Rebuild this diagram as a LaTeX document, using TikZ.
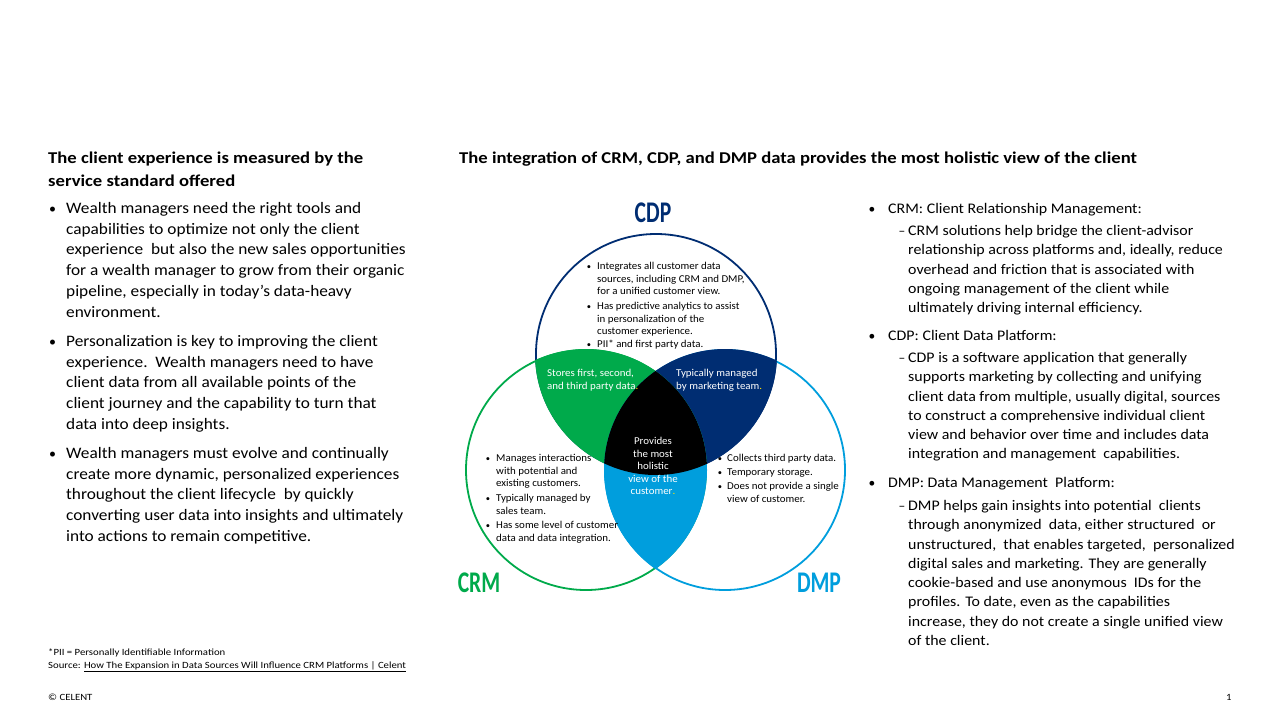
\documentclass[tikz,border=0pt]{standalone}
\usepackage{fontspec}
\setmainfont{Carlito}
\usepackage{graphicx}
\definecolor{cdpc}{RGB}{0,45,114}
\definecolor{crmc}{RGB}{0,170,75}
\definecolor{dmpc}{RGB}{0,158,221}
\definecolor{dotc}{RGB}{255,225,0}
\gdef\sxv{1}
\newcommand\T[1]{\scalebox{\sxv}[1]{#1}}
\newcommand\mylines[6]{%
  \foreach \tl [count=\ii from 0] in {#6}{%
    \node[#5] (#1-\ii) at (#2,{#3+\ii*#4}) {\T{\tl}};}}
\tikzset{
  hsc/.code={\gdef\sxv{#1}},
  txt/.style={anchor=base west, inner sep=0pt},
  head/.style={txt, hsc=1.13, font=\fontsize{16.5}{19}\selectfont\bfseries},
  lbody/.style={txt, hsc=1.08, font=\fontsize{16}{19}\selectfont},
  rbody/.style={txt, hsc=1.085, font=\fontsize{14.67}{17}\selectfont},
  vtxt/.style={txt, hsc=1.04, font=\fontsize{10.5}{12}\selectfont},
  vwhite/.style={vtxt, text=white},
  vcenter/.style={anchor=base, inner sep=0pt, hsc=1.04, text=white, font=\fontsize{10.5}{12}\selectfont},
  foot/.style={txt, hsc=1.13, font=\fontsize{9.5}{11}\selectfont},
  bul/.style={anchor=base, inner sep=0pt, hsc=1},
  lbul/.style={bul, font=\fontsize{14}{19}\selectfont},
  rbul/.style={bul, font=\fontsize{13.5}{17}\selectfont},
  vbul/.style={bul, font=\fontsize{8.5}{11}\selectfont},
  vlabel/.style={anchor=center, inner sep=0pt, hsc=0.72, font=\fontsize{30}{30}\selectfont\bfseries},
  ring/.style={line width=1.8pt},
}
\begin{document}
\begin{tikzpicture}[x=1pt,y=-1pt]
\useasboundingbox (0,0) rectangle (1280,720);
\fill[white] (0,0) rectangle (1280,720);

% ---------- headings ----------
\node[head] (h1) at (48,163.5) {\T{The client experience is measured by the}};
\node[head] (h2) at (48,186.5) {\T{service standard offered}};
\node[head] (h3) at (459,163.5) {\T{The integration of CRM, CDP, and DMP data provides the most holistic view of the client}};

% ---------- left bullets ----------
\node[lbul] (lb1) at (52.5,213) {•};
\mylines{la}{66}{213.5}{20.7}{lbody}{{Wealth managers need the right tools and},{capabilities to optimize not only the client},{experience\ \ but also the new sales opportunities},{for a wealth manager to grow from their organic},{pipeline, especially in today’s data-heavy},{environment.}}
\node[lbul] (lb2) at (52.5,346) {•};
\mylines{lb}{66}{346.5}{20.7}{lbody}{{Personalization is key to improving the client},{experience.\ \ Wealth managers need to have},{client data from all available points of the},{client journey and the capability to turn that},{data into deep insights.}}
\node[lbul] (lb3) at (52.5,458) {•};
\mylines{lc}{66}{458.5}{20.7}{lbody}{{Wealth managers must evolve and continually},{create more dynamic, personalized experiences},{throughout the client lifecycle\ \ by quickly},{converting user data into insights and ultimately},{into actions to remain competitive.}}

% ---------- right bullets ----------
\node[rbul] (rb1) at (872,213) {•};
\node[rbody] (r1) at (888,213.5) {\T{CRM: Client Relationship Management:}};
\node[rbul] (rd1) at (902,235.5) {–};
\mylines{ra}{908}{235.5}{19.25}{rbody}{{CRM solutions help bridge the client-advisor},{relationship across platforms and, ideally, reduce},{overhead and friction that is associated with},{ongoing management of the client while},{ultimately driving internal efficiency.}}
\node[rbul] (rb2) at (872,340) {•};
\node[rbody] (r2) at (888,340.5) {\T{CDP: Client Data Platform:}};
\node[rbul] (rd2) at (902,362.5) {–};
\mylines{rb}{908}{362.5}{19.25}{rbody}{{CDP is a software application that generally},{supports marketing by collecting and unifying},{client data from multiple, usually digital, sources},{to construct a comprehensive individual client},{view and behavior over time and includes data},{integration and management\ \ capabilities.}}
\node[rbul] (rb3) at (872,487) {•};
\node[rbody] (r3) at (888,487.5) {\T{DMP: Data Management\ \ Platform:}};
\node[rbul] (rd3) at (902,510.5) {–};
\mylines{rc}{908}{510.5}{19.25}{rbody}{{DMP helps gain insights into potential\ \ clients},{through anonymized\ \ data, either structured\ \ or},{unstructured,\ \ that enables targeted,\ \ personalized},{digital sales and marketing. They are generally},{cookie-based and use anonymous\ \ IDs for the},{profiles. To date, even as the capabilities},{increase, they do not create a single unified view},{of the client.}}

% ---------- Venn diagram ----------
\coordinate (cdp) at (656,354);
\coordinate (crm) at (586,470);
\coordinate (dmp) at (725,470);
\draw[ring, cdpc] (cdp) circle[radius=120pt];
\draw[ring, crmc] (crm) circle[radius=120pt];
\draw[ring, dmpc] (dmp) circle[radius=120pt];
\begin{scope}
  \clip (cdp) circle[radius=121pt];
  \clip (dmp) circle[radius=121pt];
  \fill[cdpc] (cdp) circle[radius=122pt];
\end{scope}
\begin{scope}
  \clip (cdp) circle[radius=121pt];
  \clip (crm) circle[radius=121pt];
  \fill[crmc] (cdp) circle[radius=122pt];
\end{scope}
\begin{scope}
  \clip (crm) circle[radius=121pt];
  \clip (dmp) circle[radius=121pt];
  \fill[dmpc] (crm) circle[radius=122pt];
\end{scope}
\begin{scope}
  \clip (cdp) circle[radius=121pt];
  \clip (crm) circle[radius=121pt];
  \clip (dmp) circle[radius=121pt];
  \fill[black] (cdp) circle[radius=122pt];
\end{scope}

% labels
\node[vlabel, text=cdpc] (lcdp) at (653,213) {\T{CDP}};
\node[vlabel, text=crmc] (lcrm) at (479,583) {\T{CRM}};
\node[vlabel, text=dmpc] (ldmp) at (819,583) {\T{DMP}};

% CDP text
\node[vbul] (cb1) at (589,269.5) {•};
\mylines{ca}{597}{269.5}{12.5}{vtxt}{{Integrates all customer data},{sources, including CRM and DMP,},{for a unified customer view.}}
\node[vbul] (cb2) at (589,309.5) {•};
\mylines{cb}{597}{309.5}{12.5}{vtxt}{{Has predictive analytics to assist},{in personalization of the},{customer experience.}}
\node[vbul] (cb3) at (589,347.5) {•};
\node[vtxt] (cc-0) at (597,347.5) {\T{PII* and first party data.}};

% overlap texts
\mylines{ga}{547}{376.5}{13}{vwhite}{{Stores first, second,},{and third party data{\color{dotc}.}}}
\mylines{na}{676}{376.5}{13}{vwhite}{{Typically managed},{by marketing team{\color{dotc}.}}}
\mylines{ka}{653}{444.5}{12.5}{vcenter}{{Provides},{the most},{holistic},{view of the},{customer{\color{dotc}.}}}

% CRM text
\node[vbul] (mb1) at (488,461.5) {•};
\mylines{ma}{496}{461.5}{12.7}{vtxt}{{Manages interactions},{with potential and},{existing customers.}}
\node[vbul] (mb2) at (488,501.5) {•};
\mylines{mb}{496}{501.5}{12.7}{vtxt}{{Typically managed by},{sales team.}}
\node[vbul] (mb3) at (488,528.5) {•};
\mylines{mc}{496}{528.5}{12.7}{vtxt}{{Has some level of customer},{data and data integration.}}

% DMP text
\node[vbul] (db1) at (720,461.5) {•};
\node[vtxt] (da-0) at (727,461.5) {\T{Collects third party data.}};
\node[vbul] (db2) at (720,475.5) {•};
\node[vtxt] (db-0) at (727,475.5) {\T{Temporary storage.}};
\node[vbul] (db3) at (720,489.5) {•};
\mylines{dc}{727}{489.5}{12.5}{vtxt}{{Does not provide a single},{view of customer.}}

% ---------- footer ----------
\node[foot] (f1) at (48,655.5) {\T{*PII = Personally Identifiable Information}};
\node[foot] (f2) at (48,668.5) {\T{Source: \underline{How The Expansion in Data Sources Will Influence CRM Platforms | Celent}}};
\node[foot] (f3) at (48,700.5) {\T{© CELENT}};
\node[foot] (f4) at (1226,700.5) {\T{1}};
\end{tikzpicture}
\end{document}
